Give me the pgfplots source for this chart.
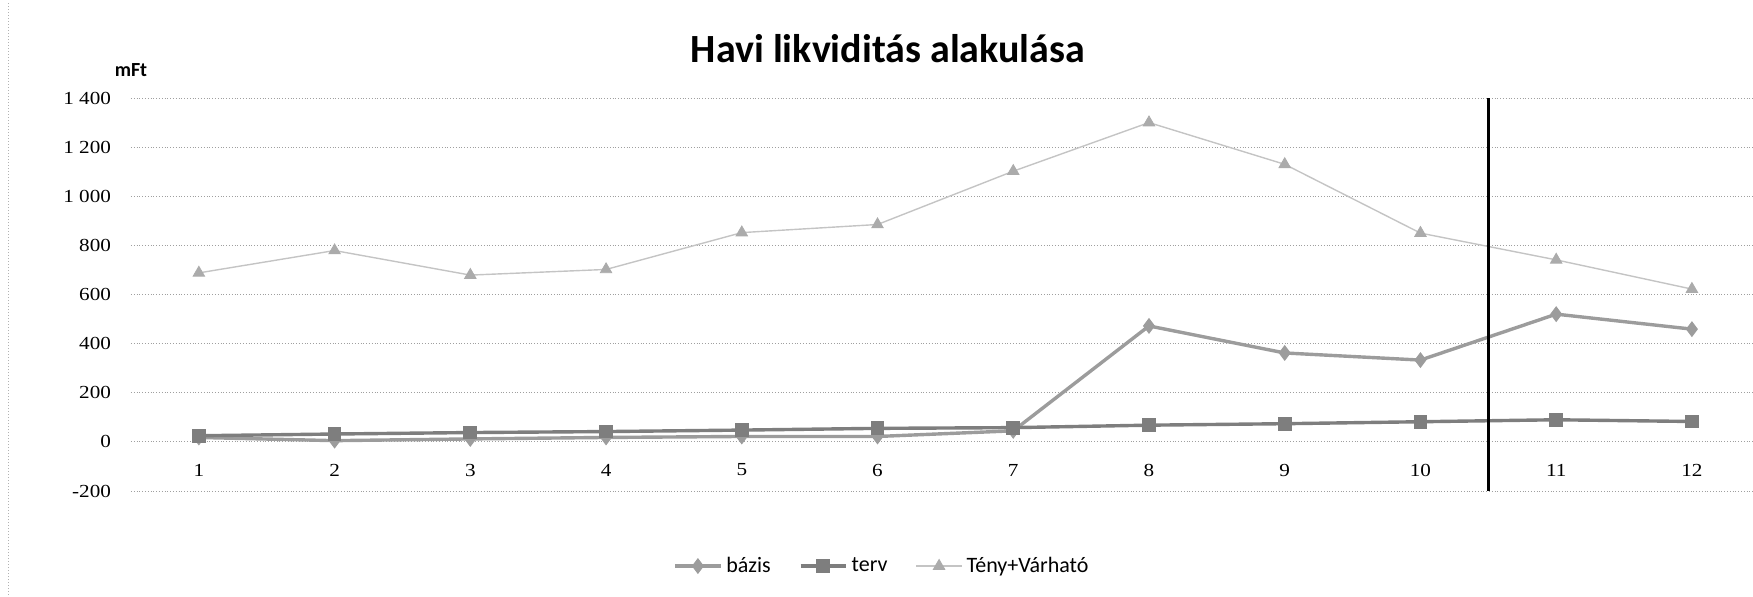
\documentclass[border=0pt]{standalone}
\usepackage{pgfplots}
\pgfplotsset{compat=1.18}
\usepackage{fontspec}
\setmainfont{Carlito}
\newfontfamily\tickfont[FakeStretch=1.15]{Liberation Serif}
\definecolor{bazisc}{HTML}{9C9C9C}
\definecolor{tervc}{HTML}{7E7E7E}
\definecolor{tenyc}{HTML}{C4C4C4}
\definecolor{tenym}{HTML}{ABABAB}
\begin{document}
\begin{tikzpicture}
\useasboundingbox (-65.5pt,-52.5pt) rectangle (811pt,245.5pt);
\draw[gray!60, densely dotted, line width=0.5pt] (-61pt,-52pt) -- (-61pt,245pt);
\begin{axis}[
  at={(0,0)}, anchor=south west,
  scale only axis, width=811pt, height=196.5pt,
  xmin=0.5, xmax=12.45, ymin=-200, ymax=1400,
  xtick={1,...,12}, ytick={-200,0,...,1400},
  axis line style={draw=none},
  tick style={draw=none},
  ymajorgrids, grid style={densely dotted, gray!75, line width=0.5pt},
  ticklabel style={font=\tickfont\fontsize{9.2}{10}\selectfont},
  /pgf/number format/assume math mode=true,
  /pgf/number format/1000 sep={\ },
  yticklabel style={anchor=east, xshift=-6.5pt},
  xticklabel style={anchor=center, yshift=10.5pt},
  title={Havi likviditás alakulása},
  title style={at={(0.4667,1.094)}, anchor=center, font=\bfseries\fontsize{20}{24}\selectfont},
  legend columns=3,
  legend style={at={(0.4636,-0.191)}, anchor=center, draw=none, fill=none,
    font=\fontsize{11}{13}\selectfont,
    /tikz/every even column/.append style={column sep=12pt}},
  legend image code/.code={\draw[mark repeat=2,mark phase=2] plot coordinates {(0cm,0cm) (0.4cm,0cm) (0.8cm,0cm)};},
  clip=false,
]
\addplot[color=bazisc, line width=1.7pt, mark=diamond*, mark size=3.6pt, mark options={fill=bazisc, draw=bazisc, line width=0.5pt}]
  coordinates {(1,18) (2,5) (3,12) (4,18) (5,22) (6,22) (7,45) (8,472) (9,362) (10,333) (11,520) (12,459)};
\addlegendentry{bázis}
\addplot[color=tervc, line width=1.7pt, mark=square*, mark size=3.2pt, mark options={fill=tervc, draw=tervc, line width=0.5pt}]
  coordinates {(1,25) (2,32) (3,38) (4,42) (5,48) (6,55) (7,58) (8,68) (9,74) (10,82) (11,90) (12,83)};
\addlegendentry{terv}
\addplot[color=tenyc, line width=0.7pt, mark=triangle*, mark size=3.3pt, mark options={fill=tenym, draw=tenym, line width=0.4pt}]
  coordinates {(1,688) (2,779) (3,679) (4,702) (5,852) (6,885) (7,1102) (8,1300) (9,1130) (10,850) (11,741) (12,622)};
\addlegendentry{Tény+Várható}
\addplot[black, line width=1.6pt, forget plot] coordinates {(10.5,-200) (10.5,1400)};
\node[font=\bfseries\fontsize{10}{12}\selectfont, anchor=center] at (rel axis cs:0,1.071) {mFt};
\end{axis}
\end{tikzpicture}
\end{document}
